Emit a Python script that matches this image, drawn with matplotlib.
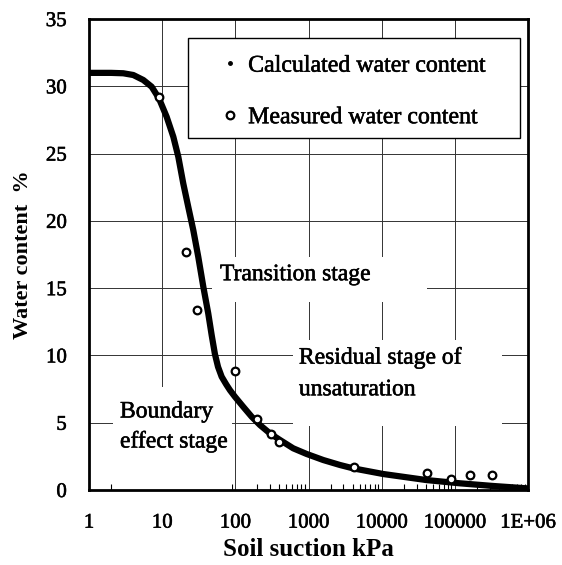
import matplotlib
matplotlib.use('Agg')
import matplotlib.pyplot as plt
import matplotlib.patheffects as pe
from matplotlib.lines import Line2D
from matplotlib.patches import Rectangle
from matplotlib.ticker import LogLocator, NullFormatter

plt.rcParams['font.family'] = ['Liberation Serif', 'DejaVu Serif']

# calculated curve
calc_suction = [1, 2, 2.94, 4.03, 5.52, 7.18, 9.04, 11.5, 14.2, 16.6, 19.4, 22.7, 26.6, 31.1, 36.5,
                42.6, 47.5, 52.6, 58, 65, 75, 84.4, 98.8, 128, 167, 217, 297, 407, 618, 942, 1590,
                2690, 4080, 10500, 41000, 117000, 334000, 1000000]
calc_water = [31.0, 31.0, 30.97, 30.84, 30.47, 29.97, 29.1, 27.74, 26.25, 24.77, 22.79, 21.05, 19.32, 17.34, 15.1,
              13.13, 11.5, 10.1, 9.15, 8.42, 7.85, 7.42, 6.93, 6.19, 5.45, 4.83, 4.21, 3.72, 3.10, 2.68, 2.23,
              1.86, 1.61, 1.19, 0.74, 0.50, 0.30, 0.12]

# measured points
meas_suction = [9, 21, 30, 100, 200, 310, 400, 4200, 42000, 90000, 160000, 320000]
meas_water = [29.2, 17.7, 13.4, 8.85, 5.25, 4.15, 3.6, 1.7, 1.3, 0.8, 1.1, 1.1]

x_ticks = [1, 10, 100, 1000, 10000, 100000, 1000000]
x_labels = ['1', '10', '100', '1000', '10000', '100000', '1E+06']
y_ticks = [0, 5, 10, 15, 20, 25, 30, 35]

heavy = [pe.withStroke(linewidth=0.4, foreground='black')]

fig = plt.figure(figsize=(5.62, 5.65), dpi=100)
ax = fig.add_axes([0.1584, 0.1327, 0.7811, 0.8336])

ax.set_xscale('log')
ax.set_xlim(1, 1e6)
ax.set_ylim(0, 35)
ax.set_axisbelow(True)
ax.grid(True, which='major', color='0.2', linewidth=0.7)

# white text boxes that break the grid (axes fraction)
for (x0, y0, w, h) in [(0.280, 0.399, 0.490, 0.096),
                       (0.465, 0.136, 0.476, 0.182),
                       (0.055, 0.0, 0.270, 0.219)]:
    ax.add_patch(Rectangle((x0, y0), w, h, transform=ax.transAxes,
                           facecolor='white', edgecolor='none', zorder=1))

ax.plot(calc_suction, calc_water, color='black', linewidth=4.5, zorder=3,
        solid_capstyle='butt', solid_joinstyle='round')
ax.plot(meas_suction, meas_water, linestyle='none', marker='o', markersize=5.5,
        markerfacecolor='white', markeredgecolor='black', markeredgewidth=1.6, zorder=4)

ax.set_xticks(x_ticks)
ax.set_xticklabels(x_labels)
ax.set_yticks(y_ticks)
ax.xaxis.set_minor_locator(LogLocator(base=10, subs=range(2, 10), numticks=20))
ax.xaxis.set_minor_formatter(NullFormatter())
ax.tick_params(axis='both', which='major', length=0, labelsize=15)
ax.tick_params(axis='x', which='major', pad=17)
ax.tick_params(axis='y', which='major', pad=16)
ax.tick_params(axis='x', which='minor', direction='in', length=4, width=0.8, top=False)
for lab in ax.get_xticklabels() + ax.get_yticklabels():
    lab.set_path_effects(heavy)

for s in ax.spines.values():
    s.set_linewidth(2.0)

ax.set_xlabel('Soil suction kPa', fontsize=18, fontweight='bold', labelpad=4)
ax.set_ylabel('Water content  %', fontsize=16, fontweight='bold', labelpad=9)

# annotations
ann = dict(fontsize=17, ha='left', va='center', zorder=5, path_effects=heavy)
ax.text(61.6, 16.0, 'Transition stage', **ann)
ax.text(739, 9.8, 'Residual stage of', **ann)
ax.text(739, 7.45, 'unsaturation', **ann)
ax.text(2.65, 5.8, 'Boundary', **ann)
ax.text(2.65, 3.57, 'effect stage', **ann)

# legend box
ax.add_patch(Rectangle((0.2255, 0.747), 0.756, 0.212, transform=ax.transAxes,
                       facecolor='white', edgecolor='black', linewidth=1.0, zorder=6))
handles = [Line2D([], [], linestyle='none', marker='o', markersize=2.5,
                  markerfacecolor='black', markeredgecolor='black'),
           Line2D([], [], linestyle='none', marker='o', markersize=5.5,
                  markerfacecolor='white', markeredgecolor='black', markeredgewidth=1.6)]
leg = ax.legend(handles, ['Calculated water content', 'Measured water content'],
                loc='center', bbox_to_anchor=(0.604, 0.846), frameon=False,
                fontsize=17.2, handlelength=0.6, handletextpad=0.45, labelspacing=1.25,
                borderpad=0)
leg.set_zorder(7)
for t in leg.get_texts():
    t.set_path_effects(heavy)

fig.savefig('out.png', dpi=100)
